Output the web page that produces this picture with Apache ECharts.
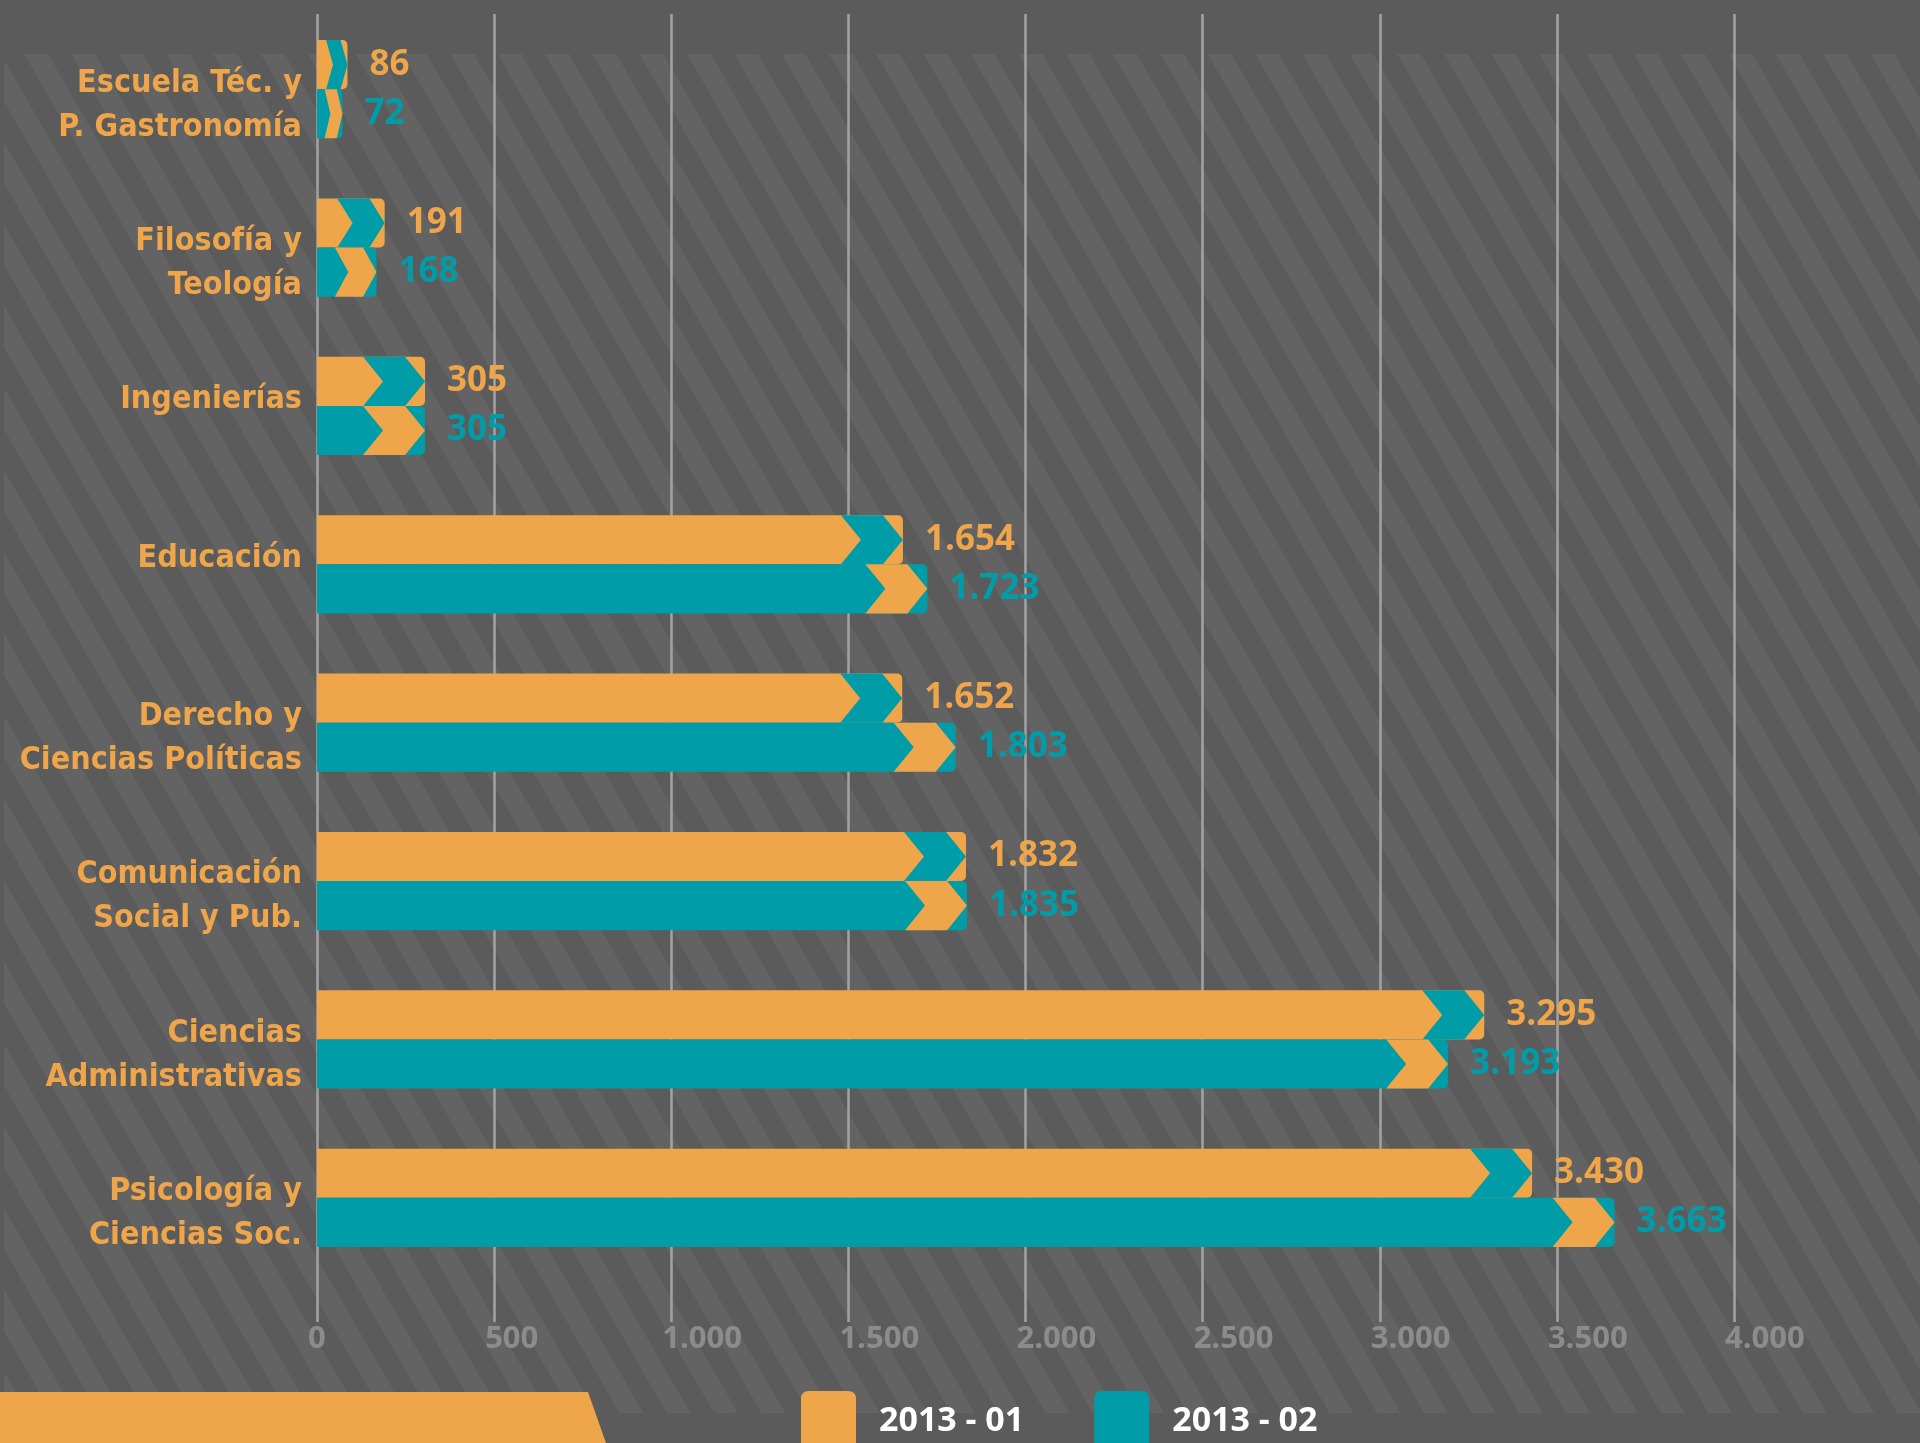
<!DOCTYPE html>
<html lang="es">
<head>
<meta charset="UTF-8">
<title>Estudiantes por facultad</title>
<script src="https://cdn.jsdelivr.net/npm/echarts@6/dist/echarts.min.js"></script>
<style>
    body { margin: 0; background: #5b5b5b; }
    #wrap { position: relative; width: 1920px; height: 1443px; background: #5b5b5b; overflow: hidden; }
    #stripes {
        position: absolute; left: 4px; top: 54px; width: 1916px; height: 1359px;
        background: repeating-linear-gradient(60deg, #636363 0 20.5px, #5b5b5b 20.5px 41px);
    }
    #chart { position: absolute; left: 0; top: 0; width: 1920px; height: 1443px; }
</style>
</head>
<body>
<div id="wrap">
    <div id="stripes"></div>
    <div id="chart"></div>
</div>
<script>
    var categories = [
        'Escuela Téc. y\nP. Gastronomía',
        'Filosofía y\nTeología',
        'Ingenierías',
        'Educación',
        'Derecho y\nCiencias Políticas',
        'Comunicación\nSocial y Pub.',
        'Ciencias\nAdministrativas',
        'Psicología y\nCiencias Soc.'
    ];
    var sem1 = [86, 191, 305, 1654, 1652, 1832, 3295, 3430];
    var sem2 = [72, 168, 305, 1723, 1803, 1835, 3193, 3663];
    var seriesNames = ['2013 - 01', '2013 - 02'];
    var xMin = 0, xMax = 4000, xStep = 500;

    var ORANGE = '#efa54a';
    var TEAL = '#009da9';

    // miles con punto: 1654 -> 1.654
    function fmt(v) {
        return String(v).replace(/\B(?=(\d{3})+(?!\d))/g, '.');
    }

    // barra con chevron al final; side -1 = arriba del centro, 1 = abajo
    function makeRender(color, accent, side) {
        return function (params, api) {
            var v = api.value(0), idx = api.value(1);
            var start = api.coord([0, idx]);
            var end = api.coord([v, idx]);
            var band = api.size([0, 1])[1];
            var h = band * 0.31;
            var yt = side < 0 ? start[1] - h : start[1];
            var yb = yt + h, ym = yt + h / 2;
            var x0 = start[0], xe = end[0], width = xe - x0;
            var s = Math.min(1, 0.7 * width / 62);
            var w = 42 * s, d = 20 * s, cx = xe - w - d;
            return {
                type: 'group',
                children: [
                    { type: 'rect', shape: { x: x0, y: yt, width: width, height: h, r: [0, 5, 5, 0] }, style: { fill: color } },
                    { type: 'polygon', shape: { points: [[cx, yt], [cx + w, yt], [xe, ym], [cx + w, yb], [cx, yb], [cx + d, ym]] }, style: { fill: accent } },
                    {
                        type: 'text', x: xe + 22, y: ym,
                        style: {
                            text: fmt(v), fill: color, fontSize: 35, fontWeight: 'bold',
                            fontFamily: '"Open Sans", sans-serif', verticalAlign: 'middle', align: 'left'
                        }
                    }
                ]
            };
        };
    }

    // etiquetas de dos lineas bajan un poco, las de una linea suben
    function catLabel(c) {
        var lines = c.split('\n');
        if (lines.length === 1) return '{one|' + c + '}';
        return '{two|' + lines[0] + '}\n{two|' + lines[1] + '}';
    }

    var labelFont = {
        color: ORANGE, fontSize: 32, fontWeight: 'bold', lineHeight: 44,
        fontFamily: '"Liberation Sans Narrow", "DejaVu Sans Condensed", sans-serif', align: 'right'
    };

    var myChart = echarts.init(document.getElementById('chart'));
    var option = {
        backgroundColor: 'transparent',
        animation: false,
        grid: [
            { left: 317, right: 186, top: 14, bottom: 121, outerBoundsMode: 'none' },
            { left: 317, right: 186, top: 10, bottom: 166, outerBoundsMode: 'none' }
        ],
        xAxis: [
            {
                gridIndex: 0, type: 'value', min: xMin, max: xMax, interval: xStep,
                axisLine: { show: false }, axisTick: { show: false },
                splitLine: { show: true, lineStyle: { color: '#a3a3a3', width: 2.5 } },
                axisLabel: {
                    color: '#8c8c8c', fontSize: 31, fontWeight: 'bold', fontFamily: '"Open Sans", sans-serif',
                    align: 'left', padding: [0, 0, 0, -9], margin: 2, formatter: fmt
                }
            },
            { gridIndex: 1, type: 'value', min: xMin, max: xMax, show: false }
        ],
        yAxis: [
            { gridIndex: 0, type: 'value', show: false },
            {
                gridIndex: 1, type: 'category', inverse: true, data: categories,
                axisLine: { show: false }, axisTick: { show: false },
                axisLabel: Object.assign({}, labelFont, {
                    margin: 15,
                    formatter: catLabel,
                    rich: {
                        one: Object.assign({}, labelFont, { padding: [0, 0, 12, 0] }),
                        two: Object.assign({}, labelFont, { padding: [32, 0, 0, 0] })
                    }
                })
            }
        ],
        legend: {
            left: 796, top: 1386, itemWidth: 55, itemHeight: 60, itemGap: 70,
            icon: 'path://M8,0 L47,0 Q55,0 55,8 L55,60 L0,60 L0,8 Q0,0 8,0 Z',
            selectedMode: false,
            data: seriesNames,
            textStyle: { color: '#ffffff', fontSize: 34, fontWeight: 'bold', fontFamily: '"Open Sans", sans-serif', padding: [0, 0, 0, 18] }
        },
        graphic: [
            {
                type: 'polygon', z: 0,
                shape: { points: [[0, 1392], [588, 1392], [606, 1443], [0, 1443]] },
                style: { fill: ORANGE }
            }
        ],
        series: [
            {
                name: seriesNames[0], type: 'custom', xAxisIndex: 1, yAxisIndex: 1,
                itemStyle: { color: ORANGE },
                encode: { x: 0, y: 1 },
                renderItem: makeRender(ORANGE, TEAL, -1),
                data: sem1.map(function (v, i) { return [v, i]; })
            },
            {
                name: seriesNames[1], type: 'custom', xAxisIndex: 1, yAxisIndex: 1,
                itemStyle: { color: TEAL },
                encode: { x: 0, y: 1 },
                renderItem: makeRender(TEAL, ORANGE, 1),
                data: sem2.map(function (v, i) { return [v, i]; })
            }
        ]
    };
    myChart.setOption(option);
</script>
</body>
</html>
